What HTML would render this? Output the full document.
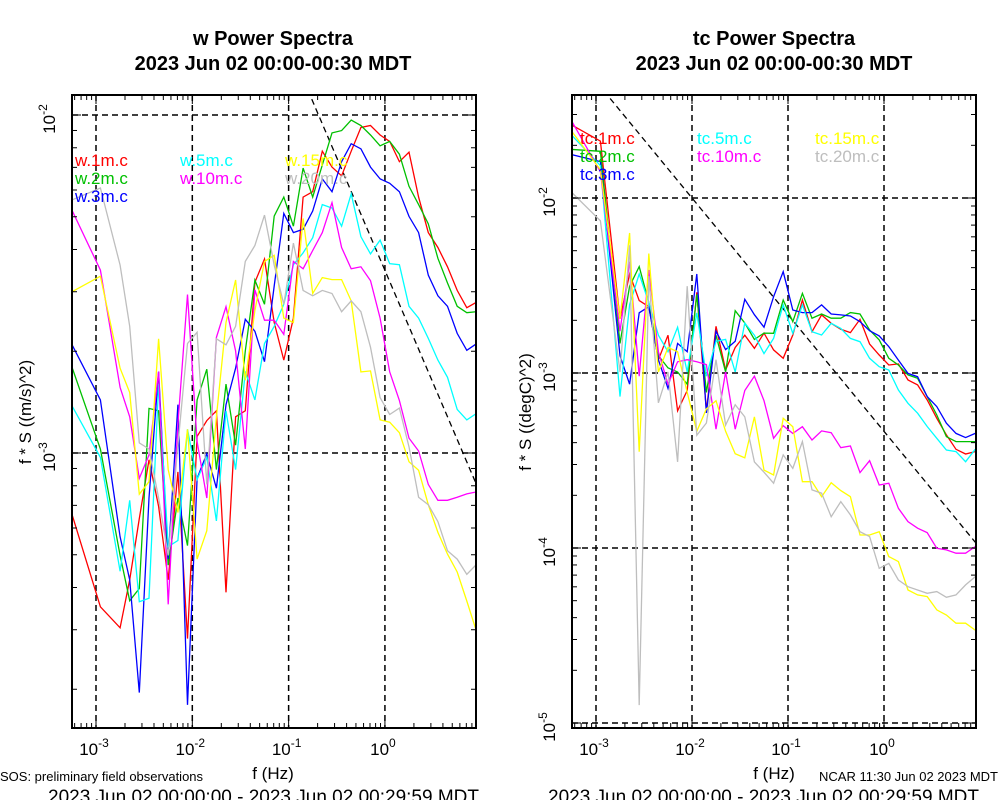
<!DOCTYPE html>
<html><head><meta charset="utf-8"><style>
html,body{margin:0;padding:0;background:#fff;}
svg{display:block;font-family:"Liberation Sans",Arial,sans-serif;}
</style></head><body>
<svg id="chart" width="1000" height="800" viewBox="0 0 1000 800" xmlns="http://www.w3.org/2000/svg">
<defs>
<clipPath id="clipL"><rect x="72" y="95" width="404" height="633"/></clipPath>
<clipPath id="clipR"><rect x="572" y="95" width="404" height="633"/></clipPath>
</defs>
<text x="273" y="45" text-anchor="middle" font-size="20" font-weight="bold">w Power Spectra</text>
<text x="273" y="70" text-anchor="middle" font-size="20" font-weight="bold">2023 Jun 02 00:00-00:30 MDT</text>
<text x="774" y="45" text-anchor="middle" font-size="20" font-weight="bold">tc Power Spectra</text>
<text x="774" y="70" text-anchor="middle" font-size="20" font-weight="bold">2023 Jun 02 00:00-00:30 MDT</text>
<text transform="translate(31,412) rotate(-90)" text-anchor="middle" font-size="17">f * S ((m/s)^2)</text>
<text transform="translate(531,412) rotate(-90)" text-anchor="middle" font-size="17">f * S ((degC)^2)</text>
<text x="273" y="779" text-anchor="middle" font-size="17">f (Hz)</text>
<text x="774" y="779" text-anchor="middle" font-size="17">f (Hz)</text>
<text x="0" y="781" font-size="13">SOS: preliminary field observations</text>
<text x="998" y="781" text-anchor="end" font-size="13">NCAR 11:30 Jun 02 2023 MDT</text>
<text x="48" y="803" font-size="19">2023 Jun 02 00:00:00 - 2023 Jun 02 00:29:59 MDT</text>
<text x="548" y="803" font-size="19">2023 Jun 02 00:00:00 - 2023 Jun 02 00:29:59 MDT</text>
<g id="gL"></g><g id="gR"></g>
</svg>
<script>
// log10 of frequency (Hz) for each spectral bin
const logFreq = [-3.255,-2.954,-2.75,-2.65,-2.55,-2.45,-2.35,-2.25,-2.15,-2.05,-1.95,-1.85,-1.75,-1.65,-1.55,-1.45,-1.35,-1.25,-1.15,-1.05,-0.95,-0.85,-0.75,-0.65,-0.55,-0.45,-0.35,-0.25,-0.15,-0.05,0.05,0.15,0.25,0.35,0.45,0.55,0.65,0.75,0.85,0.95];
const wNames = ["w.1m.c","w.2m.c","w.3m.c","w.5m.c","w.10m.c","w.15m.c","w.20m.c"];
const tcNames = ["tc.1m.c","tc.2m.c","tc.3m.c","tc.5m.c","tc.10m.c","tc.15m.c","tc.20m.c"];
const colors = ["#ff0000","#00c000","#0000ff","#00ffff","#ff00ff","#ffff00","#bebebe"];
// log10 of f*S for w, ((m/s)^2)
const w1 = [-3.176,-3.455,-3.517,-3.375,-3.194,-3.020,-3.158,-3.375,-3.056,-3.549,-2.951,-2.904,-2.875,-3.412,-2.893,-2.875,-2.495,-2.426,-2.614,-2.725,-2.601,-2.243,-2.227,-2.107,-2.154,-2.180,-2.107,-2.037,-2.031,-2.059,-2.078,-2.138,-2.110,-2.243,-2.348,-2.392,-2.449,-2.519,-2.570,-2.554];
const w2 = [-2.741,-2.988,-3.303,-3.437,-3.401,-2.868,-2.875,-3.332,-3.133,-3.274,-2.843,-2.752,-3.049,-2.796,-2.977,-2.698,-2.488,-2.560,-2.299,-2.243,-2.329,-2.157,-2.243,-2.148,-2.053,-2.046,-2.015,-2.031,-2.059,-2.091,-2.078,-2.116,-2.211,-2.265,-2.322,-2.424,-2.497,-2.566,-2.585,-2.582];
const w3 = [-2.676,-2.843,-3.248,-3.375,-3.709,-3.133,-2.759,-3.314,-2.857,-3.745,-3.075,-3.002,-3.104,-2.857,-2.749,-2.604,-2.640,-2.730,-2.506,-2.291,-2.348,-2.338,-2.284,-2.189,-2.227,-2.138,-2.085,-2.100,-2.154,-2.189,-2.202,-2.227,-2.300,-2.348,-2.474,-2.535,-2.566,-2.646,-2.696,-2.677];
const w5 = [-2.857,-3.013,-3.350,-3.140,-3.440,-3.430,-2.796,-3.277,-3.259,-2.930,-3.078,-3.013,-3.201,-2.875,-3.049,-2.759,-2.843,-2.676,-2.625,-2.560,-2.443,-2.408,-2.363,-2.265,-2.275,-2.329,-2.233,-2.360,-2.411,-2.370,-2.440,-2.443,-2.566,-2.601,-2.661,-2.725,-2.776,-2.871,-2.902,-2.883];
const w10 = [-2.278,-2.459,-2.806,-2.893,-3.075,-3.006,-2.759,-3.448,-2.915,-2.531,-2.966,-3.133,-2.658,-2.567,-2.698,-2.988,-2.517,-2.607,-2.607,-2.649,-2.433,-2.455,-2.401,-2.348,-2.259,-2.392,-2.455,-2.449,-2.490,-2.601,-2.760,-2.845,-2.956,-2.994,-3.093,-3.140,-3.140,-3.131,-3.121,-3.115];
const w15 = [-2.524,-2.477,-2.749,-2.821,-3.122,-3.085,-2.662,-3.049,-3.176,-2.930,-3.314,-3.230,-2.893,-2.614,-2.488,-2.785,-2.578,-2.433,-2.415,-2.601,-2.614,-2.306,-2.528,-2.481,-2.487,-2.487,-2.550,-2.760,-2.757,-2.902,-2.909,-2.940,-3.026,-3.051,-3.153,-3.235,-3.299,-3.352,-3.438,-3.527];
const w20 = [-2.252,-2.216,-2.444,-2.625,-2.970,-2.988,-3.133,-3.303,-2.977,-2.676,-2.643,-3.093,-2.662,-2.680,-2.625,-2.433,-2.386,-2.296,-2.444,-2.560,-2.379,-2.519,-2.535,-2.519,-2.528,-2.582,-2.550,-2.582,-2.687,-2.836,-2.886,-2.867,-2.982,-3.131,-3.153,-3.203,-3.289,-3.314,-3.359,-3.330];
// log10 of f*S for tc, ((degC)^2)
const tc1 = [-1.582,-1.675,-2.691,-2.434,-2.586,-2.621,-2.924,-2.784,-3.216,-3.100,-2.539,-3.216,-2.733,-2.983,-2.854,-2.784,-2.859,-2.772,-2.868,-2.916,-2.783,-2.583,-2.764,-2.668,-2.716,-2.750,-2.769,-2.693,-2.834,-2.897,-2.954,-2.948,-3.040,-3.068,-3.154,-3.259,-3.354,-3.436,-3.463,-3.449];
const tc2 = [-1.722,-1.733,-2.831,-2.504,-2.392,-2.597,-2.901,-2.971,-2.994,-3.064,-2.551,-3.111,-2.784,-2.994,-2.644,-2.714,-2.808,-2.772,-2.773,-2.583,-2.707,-2.545,-2.687,-2.663,-2.687,-2.687,-2.655,-2.663,-2.754,-2.811,-2.916,-2.954,-3.011,-3.030,-3.135,-3.240,-3.364,-3.392,-3.392,-3.392];
const tc3 = [-1.752,-1.792,-2.901,-3.064,-2.656,-2.621,-2.924,-3.088,-2.831,-2.878,-2.434,-3.228,-2.761,-2.866,-2.819,-2.579,-2.667,-2.738,-2.564,-2.421,-2.640,-2.655,-2.655,-2.611,-2.663,-2.668,-2.674,-2.707,-2.758,-2.788,-2.849,-2.926,-3.002,-3.021,-3.135,-3.192,-3.287,-3.345,-3.369,-3.345];
const tc5 = [-1.640,-1.815,-3.135,-2.609,-2.434,-2.597,-2.784,-2.878,-2.738,-2.994,-2.656,-3.018,-2.819,-2.808,-2.994,-2.714,-2.784,-2.889,-2.802,-2.611,-2.773,-2.611,-2.764,-2.783,-2.716,-2.745,-2.802,-2.821,-2.916,-2.964,-2.983,-3.097,-3.173,-3.230,-3.306,-3.373,-3.440,-3.449,-3.507,-3.436];
const tc10 = [-1.558,-1.850,-2.761,-2.364,-3.018,-2.411,-2.878,-3.064,-2.936,-2.924,-2.936,-2.952,-3.321,-2.994,-3.321,-3.100,-3.018,-3.158,-3.373,-3.301,-3.345,-3.307,-3.383,-3.331,-3.341,-3.427,-3.417,-3.569,-3.501,-3.640,-3.630,-3.773,-3.849,-3.887,-3.912,-4.002,-4.011,-4.030,-4.030,-3.992];
const tc15 = [-1.617,-1.838,-2.691,-2.200,-3.450,-2.317,-2.994,-2.854,-2.878,-3.111,-3.333,-3.205,-3.158,-3.333,-3.461,-3.485,-3.251,-3.555,-3.583,-3.259,-3.307,-3.621,-3.621,-3.707,-3.627,-3.672,-3.707,-3.926,-3.926,-3.907,-4.049,-4.078,-4.240,-4.268,-4.278,-4.354,-4.383,-4.430,-4.430,-4.469];
const tc20 = [-1.967,-2.130,-2.994,-2.270,-4.898,-2.446,-3.170,-2.994,-3.508,-2.504,-3.356,-3.286,-2.924,-3.298,-3.181,-3.251,-3.508,-3.567,-3.630,-3.468,-3.545,-3.392,-3.668,-3.687,-3.821,-3.735,-3.811,-3.907,-3.935,-4.116,-4.088,-4.183,-4.221,-4.240,-4.259,-4.249,-4.282,-4.268,-4.211,-4.164];
const xTickExp = [-3,-2,-1,0];
const wYTickExp = [-3,-2];
const tcYTickExp = [-5,-4,-3,-2];
// -2/3 slope reference lines: [log10 f anchor, log10 S anchor]
const wRef = [-0.778,-1.941];
const tcRef = [-2,-2];

const NS="http://www.w3.org/2000/svg";
function mk(tag,attrs,parent){const e=document.createElementNS(NS,tag);for(const k in attrs)e.setAttribute(k,attrs[k]);parent.appendChild(e);return e;}

function drawPanel(g,clip,x0,x1,y0,y1,xMin,xMax,yMin,yMax,series,names,yTicks,ref,legX,legY,prefix){
  const sx=v=>x0+(v-xMin)/(xMax-xMin)*(x1-x0);
  const sy=v=>y1-(v-yMin)/(yMax-yMin)*(y1-y0);
  const clipG=mk('g',{'clip-path':'url(#'+clip+')'},g);
  xTickExp.forEach(e=>{
    const l=mk('line',{x1:sx(e),x2:sx(e),y1:y0,y2:y1,stroke:'#000','stroke-width':1.5,'stroke-dasharray':'6,4'},clipG);
    
    
  });
  yTicks.forEach(e=>{
    const l=mk('line',{x1:x0,x2:x1,y1:sy(e),y2:sy(e),stroke:'#000','stroke-width':1.5,'stroke-dasharray':'6,4'},clipG);
    
    
  });
  const rl=mk('line',{x1:sx(xMin),y1:sy(ref[1]-2/3*(xMin-ref[0])),x2:sx(xMax),y2:sy(ref[1]-2/3*(xMax-ref[0])),stroke:'#000','stroke-width':1.3,'stroke-dasharray':'6,4'},clipG);
  
  
  series.forEach((s,i)=>{
    const pts=s.map((v,j)=>sx(logFreq[j]).toFixed(1)+','+sy(v).toFixed(1)).join(' ');
    const p=mk('polyline',{points:pts,fill:'none',stroke:colors[i],'stroke-width':1.3,'stroke-linejoin':'miter'},clipG);
    
    
  });
  const fr=mk('rect',{x:x0,y:y0,width:x1-x0,height:y1-y0,fill:'none',stroke:'#000','stroke-width':2},g);
  
  
  for(let e=Math.floor(xMin);e<=Math.ceil(xMax);e++){
    for(let m=1;m<10;m++){
      const v=e+Math.log10(m); if(v<xMin||v>xMax)continue;
      const len=m===1?9:5; const x=sx(v);
      mk('line',{x1:x,x2:x,y1:y1,y2:y1-len,stroke:'#000','stroke-width':1},g);
      mk('line',{x1:x,x2:x,y1:y0,y2:y0+len,stroke:'#000','stroke-width':1},g);
    }
  }
  for(let e=Math.floor(yMin);e<=Math.ceil(yMax);e++){
    for(let m=1;m<10;m++){
      const v=e+Math.log10(m); if(v<yMin||v>yMax)continue;
      const len=m===1?9:5; const y=sy(v);
      mk('line',{x1:x0,x2:x0+len,y1:y,y2:y,stroke:'#000','stroke-width':1},g);
      mk('line',{x1:x1,x2:x1-len,y1:y,y2:y,stroke:'#000','stroke-width':1},g);
    }
  }
  xTickExp.forEach(e=>{
    const t=mk('text',{x:sx(e)-2,y:755,'text-anchor':'middle','font-size':17},g);
    
    
    t.appendChild(document.createTextNode('10'));
    const s=mk('tspan',{dy:-8,'font-size':12},t); s.textContent=String(e);
  });
  yTicks.forEach(e=>{
    const t=mk('text',{transform:'translate('+(x0-17)+','+(sy(e)+4)+') rotate(-90)','text-anchor':'middle','font-size':17},g);
    
    
    t.appendChild(document.createTextNode('10'));
    const s=mk('tspan',{dy:-8,'font-size':12},t); s.textContent=String(e);
  });
  names.forEach((n,i)=>{
    const col=i<3?0:(i<5?1:2); const row=i<3?i:(i<5?i-3:i-5);
    const t=mk('text',{x:legX[col],y:legY+row*18,'font-size':17,fill:colors[i]},g);
    
    
    t.textContent=n;
  });
}
drawPanel(document.getElementById('gL'),'clipL',72,476,95,728,-3.2492,0.9456,-3.8136,-1.9408,[w1,w2,w3,w5,w10,w15,w20],wNames,wYTickExp,wRef,[75,180,285],166,'w');
drawPanel(document.getElementById('gR'),'clipR',572,976,95,728,-3.25,0.9583,-5.0286,-1.4114,[tc1,tc2,tc3,tc5,tc10,tc15,tc20],tcNames,tcYTickExp,tcRef,[580,697,815],144,'tc');
</script>
</body></html>
